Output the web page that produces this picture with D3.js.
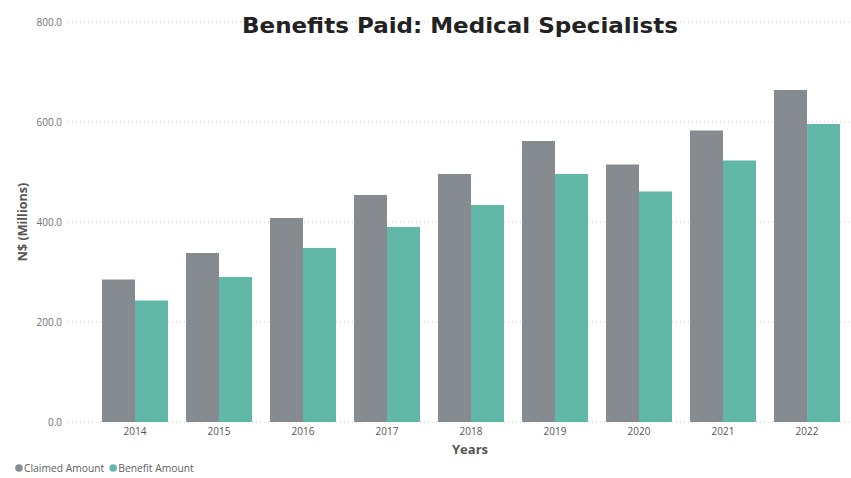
<!DOCTYPE html>
<html>
<head>
<meta charset="utf-8">
<script src="https://cdn.jsdelivr.net/npm/d3@7"></script>
<style>
  html, body { margin: 0; padding: 0; background: #fff; }
  svg { display: block; }
</style>
</head>
<body>
<svg id="chart" width="851" height="478"></svg>
<script>
// Benefits paid to medical specialists, N$ millions
const years = ["2014", "2015", "2016", "2017", "2018", "2019", "2020", "2021", "2022"];
const claimedAmount = [285, 338, 408, 454, 496, 562, 515, 583, 664];
const benefitAmount = [243, 290, 348, 390, 434, 496, 461, 523, 596];
const seriesNames = ["Claimed Amount", "Benefit Amount"];
const seriesColors = ["#868b8f", "#62b8a7"];
const yTicks = [0, 200, 400, 600, 800];

const svg = d3.select("#chart");

const x = d3.scaleBand().domain(years).range([93, 849])
  .paddingInner(0.2143).paddingOuter(0.107);
const xSub = d3.scaleBand().domain(seriesNames).range([0, x.bandwidth()]);
const y = d3.scaleLinear().domain([0, 800]).range([422, 22]);

const font = "'Open Sans', 'Noto Sans', sans-serif";

// gridlines
svg.append("g").selectAll("line").data(yTicks).join("line")
  .attr("x1", 68).attr("x2", 850)
  .attr("y1", d => y(d)).attr("y2", d => y(d))
  .attr("stroke", "#c8c8c8").attr("stroke-width", 1)
  .attr("stroke-dasharray", "1,3");

// y axis labels
const yAxis = d3.axisLeft(y).tickValues(yTicks).tickFormat(d3.format(".1f")).tickSize(0).tickPadding(0);
const gy = svg.append("g").attr("transform", "translate(62,0)").call(yAxis);
gy.select(".domain").remove();
gy.selectAll("text").attr("font-family", font).attr("font-size", 10).attr("fill", "#707070");

// bars
const rows = years.map((yr, i) => ({ year: yr, values: [claimedAmount[i], benefitAmount[i]] }));
const groups = svg.append("g").selectAll("g").data(rows).join("g")
  .attr("transform", d => `translate(${x(d.year)},0)`);
groups.selectAll("rect").data(d => d.values.map((v, j) => ({ key: seriesNames[j], v, j })))
  .join("rect")
  .attr("x", d => xSub(d.key))
  .attr("width", xSub.bandwidth())
  .attr("y", d => y(d.v))
  .attr("height", d => y(0) - y(d.v))
  .attr("fill", d => seriesColors[d.j]);

// x axis labels
const xAxis = d3.axisBottom(x).tickSize(0).tickPadding(6);
const gx = svg.append("g").attr("transform", "translate(0,422)").call(xAxis);
gx.select(".domain").remove();
gx.selectAll("text").attr("font-family", font).attr("font-size", 10).attr("fill", "#555");

// axis titles
svg.append("text").attr("x", 470).attr("y", 454).attr("text-anchor", "middle")
  .attr("font-family", font).attr("font-weight", "bold").attr("font-size", 13)
  .attr("fill", "#555").text("Years");
svg.append("text").attr("transform", "translate(27,222) rotate(-90)").attr("text-anchor", "middle")
  .attr("font-family", font).attr("font-weight", "bold").attr("font-size", 12.5)
  .attr("fill", "#555").text("N$ (Millions)");

// title
svg.append("text").attr("x", 460).attr("y", 32.5).attr("text-anchor", "middle")
  .attr("font-family", "'DejaVu Sans', sans-serif").attr("font-weight", "bold").attr("font-size", 21)
  .attr("textLength", 436).attr("lengthAdjust", "spacingAndGlyphs")
  .attr("fill", "#222").text("Benefits Paid: Medical Specialists");

// legend
const legend = svg.append("g").attr("transform", "translate(19,468)");
let lx = 0;
seriesNames.forEach((name, i) => {
  const g = legend.append("g").attr("transform", `translate(${lx},0)`);
  g.append("circle").attr("cx", 0).attr("cy", 0).attr("r", 3.8).attr("fill", seriesColors[i]);
  const t = g.append("text").attr("x", 5).attr("y", 3.5)
    .attr("font-family", font).attr("font-size", 10.3).attr("fill", "#606060").text(name);
  lx += 5 + t.node().getComputedTextLength() + 9;
});
</script>
</body>
</html>
